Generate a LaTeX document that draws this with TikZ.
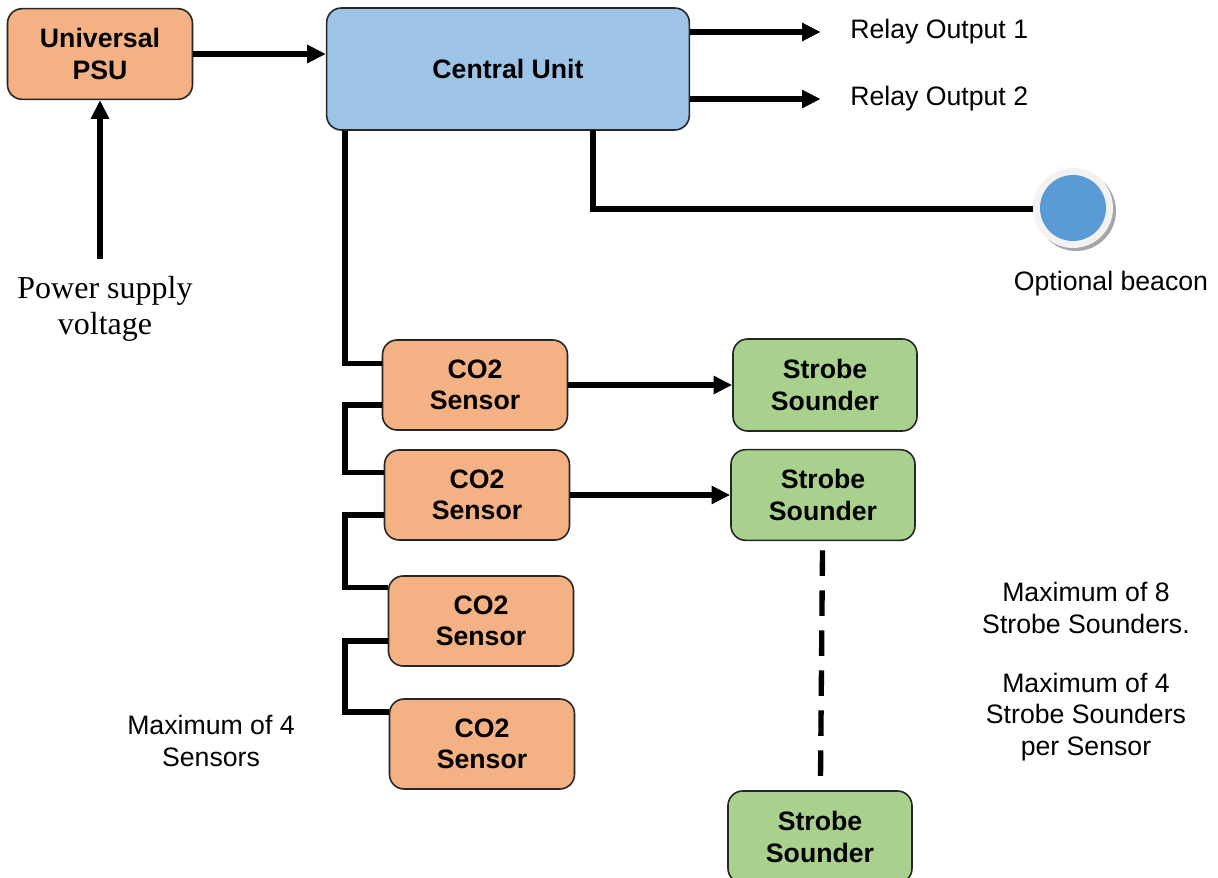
\documentclass[tikz,border=0pt]{standalone}
\usepackage{fontspec}
\setmainfont{Liberation Sans}
\newfontfamily\serifnote{Liberation Serif}
\usetikzlibrary{arrows.meta}

\definecolor{psuorange}{HTML}{F4B183}
\definecolor{unitblue}{HTML}{9DC3E6}
\definecolor{sndgreen}{HTML}{A9D18E}
\definecolor{beaconblue}{HTML}{5B9BD5}
\definecolor{ringgrey}{HTML}{F2F2F2}

\begin{document}
\begin{tikzpicture}[x=0.75pt, y=-0.75pt,
  box/.style={draw=black!85, line width=1.2pt, rounded corners=11pt, align=center,
    font=\fontsize{20}{23.5}\selectfont\bfseries},
  wire/.style={line width=4pt},
  arrow/.style={wire, -{Triangle[length=14pt,width=13pt]}},
  note/.style={align=center, font=\fontsize{20}{23.5}\selectfont}]

\useasboundingbox (0,0) rectangle (1218,878);

% main units
\node[box, fill=psuorange, minimum width=138.75pt, minimum height=68pt] (psu) at (100,54) {Universal\\PSU};
\node[box, fill=unitblue, minimum width=272pt, minimum height=91.5pt] (central) at (508,69) {Central Unit};

% sensors
\node[box, fill=psuorange, minimum width=138.75pt, minimum height=67.5pt] (sensor1) at (475,385) {CO2\\Sensor};
\node[box, fill=psuorange, minimum width=138.75pt, minimum height=67.5pt] (sensor2) at (477,495) {CO2\\Sensor};
\node[box, fill=psuorange, minimum width=138.75pt, minimum height=67.5pt] (sensor3) at (481,621) {CO2\\Sensor};
\node[box, fill=psuorange, minimum width=138.75pt, minimum height=67.5pt] (sensor4) at (482,744) {CO2\\Sensor};

% sounders
\node[box, fill=sndgreen, minimum width=138pt, minimum height=69pt] (sounder1) at (825,385) {Strobe\\Sounder};
\node[box, fill=sndgreen, minimum width=138pt, minimum height=68pt] (sounder2) at (823,495) {Strobe\\Sounder};
\node[box, fill=sndgreen, minimum width=138pt, minimum height=69pt] (sounder3) at (820,837) {Strobe\\Sounder};

% texts
\node[align=center, font=\serifnote\fontsize{24}{27.5}\selectfont] (supply) at (105,309) {Power supply\\voltage};
\node[note, anchor=west, inner sep=0pt] (relay1) at (850,32) {Relay Output 1};
\node[note, anchor=west, inner sep=0pt] (relay2) at (850,99) {Relay Output 2};
\node[note] (sndnote1) at (1086,608) {Maximum of 8\\Strobe Sounders.};
\node[note] (sndnote2) at (1086,717) {Maximum of 4\\Strobe Sounders\\per Sensor};
\node[note] (sensnote) at (211,741) {Maximum of 4\\Sensors};
\node[note, inner sep=0pt] (beaconlabel) at (1111,284) {Optional beacon};

% connectors
\coordinate (spine) at (345,0);
\coordinate (tap) at (593,130);

\draw[arrow] ([yshift=9pt]supply.north -| psu.south) -- (psu.south);
\draw[arrow] (psu.east) -- (psu.east -| central.west);
\draw[arrow] (central.east |- relay1) -- ([xshift=-22pt]relay1.west);
\draw[arrow] (central.east |- relay2) -- ([xshift=-22pt]relay2.west);

\draw[wire] (central.south -| spine) |- ([yshift=16pt]sensor1.west);
\foreach \a/\b/\c in {sensor1/sensor2/17pt, sensor2/sensor3/25pt, sensor3/sensor4/24pt}
  \draw[wire] ([yshift=-15pt]\a.west) -- ([yshift=-15pt]\a.west -| spine) |- ([yshift=\c]\b.west);

\draw[arrow] (sensor1) -- (sounder1);
\draw[arrow] (sensor2) -- (sounder2);
\draw[wire, dashed, dash pattern=on 19pt off 11pt, shorten <=7pt] (sounder2) -- (sounder3);

% beacon
\draw[wire] (tap) |- (1045,209);
\fill[black!35] (1076,211) circle (40);
\node[circle, fill=ringgrey, minimum size=60pt, inner sep=0pt] (beacon) at (1073,208) {};
\fill[beaconblue] (beacon) circle (33);

\end{tikzpicture}
\end{document}
